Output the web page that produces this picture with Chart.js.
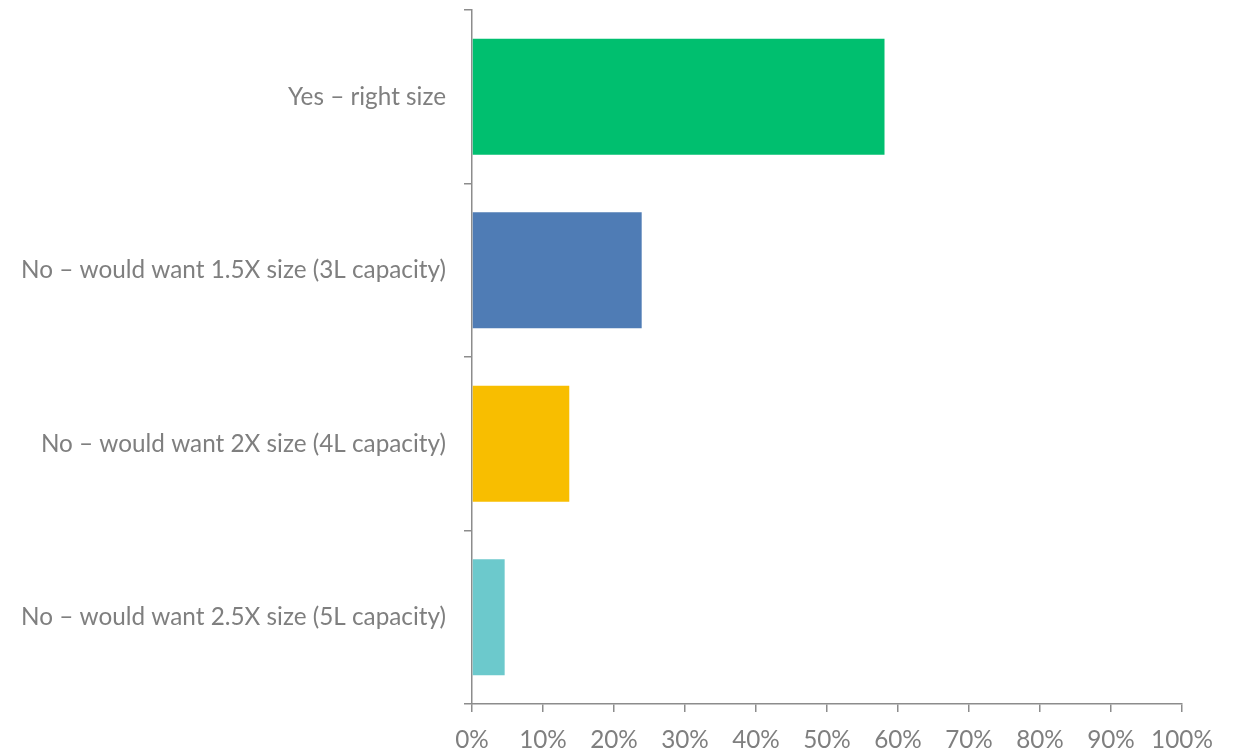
<!DOCTYPE html>
<html>
<head>
<meta charset="utf-8">
<script src="https://cdn.jsdelivr.net/npm/chart.js@4.4.1/dist/chart.umd.min.js"></script>
<style>
  html, body { margin: 0; padding: 0; background: #fff; }
  #wrap { width: 1237px; height: 752px; }
</style>
</head>
<body>
<div id="wrap"><canvas id="chart" width="1237" height="752"></canvas></div>
<script>
const categories = [
  'Yes \u2013 right size',
  'No \u2013 would want 1.5X size (3L capacity)',
  'No \u2013 would want 2X size (4L capacity)',
  'No \u2013 would want 2.5X size (5L capacity)'
];
const shares = [58.1, 23.9, 13.7, 4.6];
const barColors = ['#00bf6f', '#4f7cb5', '#f8be00', '#6cc9cc'];
const xTicks = [0, 10, 20, 30, 40, 50, 60, 70, 80, 90, 100];

const axisColor = '#8c8c8c';
const textColor = '#7f7f7f';
const font = { family: 'Lato, "Open Sans", sans-serif', size: 24.3 };

new Chart(document.getElementById('chart'), {
  type: 'bar',
  data: {
    labels: categories,
    datasets: [{
      data: shares,
      backgroundColor: barColors,
      borderWidth: 0,
      barPercentage: 0.67,
      categoryPercentage: 1
    }]
  },
  options: {
    indexAxis: 'y',
    responsive: false,
    animation: false,
    layout: { padding: { top: 10, right: 55, bottom: 0, left: 0 } },
    plugins: { legend: { display: false }, tooltip: { enabled: false } },
    scales: {
      x: {
        min: 0,
        max: 100,
        afterBuildTicks: (scale) => { scale.ticks = xTicks.map(v => ({ value: v })); },
        afterFit: (scale) => {
          scale.height = 48;
          scale.paddingLeft = 0;
          scale.paddingRight = 0;
        },
        border: { color: axisColor, width: 1.5 },
        grid: { drawOnChartArea: false, color: axisColor, tickLength: 8, lineWidth: 1.5 },
        ticks: {
          color: textColor,
          font: font,
          padding: 14,
          maxRotation: 0,
          callback: (v) => v + '%'
        }
      },
      y: {
        afterFit: (scale) => {
          scale.width = 472;
          scale.paddingTop = 0;
          scale.paddingBottom = 0;
        },
        border: { color: axisColor, width: 1.5 },
        grid: { drawOnChartArea: false, color: axisColor, tickLength: 8, lineWidth: 1.5, offset: true },
        ticks: { color: textColor, font: font, padding: 18 }
      }
    }
  }
});
</script>
</body>
</html>
